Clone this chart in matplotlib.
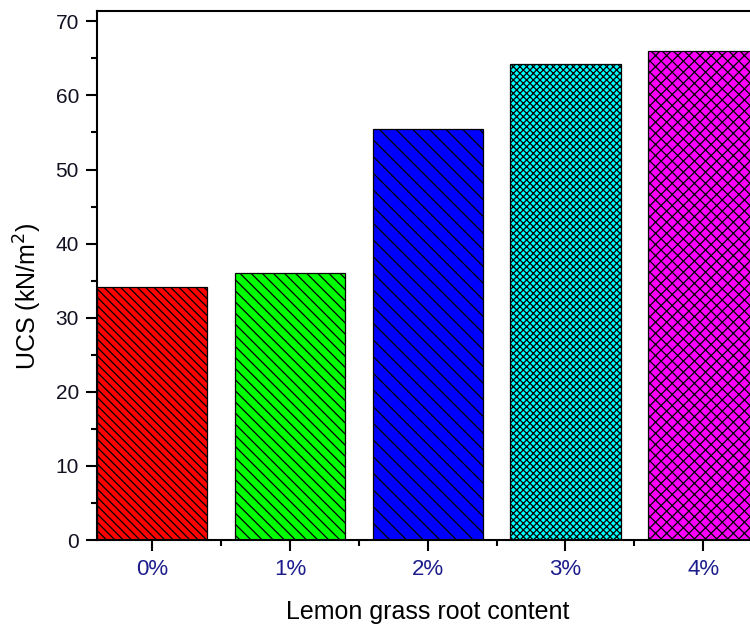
import numpy as np
import matplotlib.pyplot as plt
from matplotlib.ticker import MultipleLocator

plt.rcParams['font.family'] = ['Liberation Sans', 'DejaVu Sans']
plt.rcParams['hatch.linewidth'] = 0.9

contents = ["0%", "1%", "2%", "3%", "4%"]
ucs = [34.2, 36.0, 55.5, 64.3, 66.0]
colors = ["#ff0000", "#00ff00", "#0000ff", "#00ffff", "#ff00ff"]
hatches = ["\\\\\\\\", "\\\\\\", "\\\\", "xxxxx", "xxx"]

fig = plt.figure(figsize=(7.5, 6.24), dpi=100)
# axes run a little past the right edge of the figure
ax = fig.add_axes([0.1293, 0.1346, 0.8819, 0.8478])

x = np.arange(len(contents))
for i in range(len(contents)):
    ax.bar(x[i], ucs[i], width=0.8, color=colors[i], edgecolor="black",
           linewidth=0.9, hatch=hatches[i])

ax.set_xlim(-0.4, 4.4)
ax.set_ylim(0, 71.4)
ax.set_xticks(x)
ax.set_xticklabels(contents, color="#1c1c8c")
ax.xaxis.set_minor_locator(MultipleLocator(0.5))
ax.yaxis.set_major_locator(MultipleLocator(10))
ax.yaxis.set_minor_locator(MultipleLocator(5))

ax.tick_params(which="major", direction="out", length=8, width=1.5, pad=5)
ax.tick_params(axis="y", labelsize=15, labelcolor="#111122")
ax.tick_params(axis="x", labelsize=16, pad=6)
ax.tick_params(which="minor", direction="out", length=4.3, width=1.5)
for s in ax.spines.values():
    s.set_linewidth(1.5)

ax.set_xlabel("Lemon grass root content", fontsize=18, labelpad=14)
ax.set_ylabel("UCS (kN/m$^2$)", fontsize=18)
ax.yaxis.set_label_coords(-0.080, 0.461)

fig.savefig("out.png", dpi=100)
